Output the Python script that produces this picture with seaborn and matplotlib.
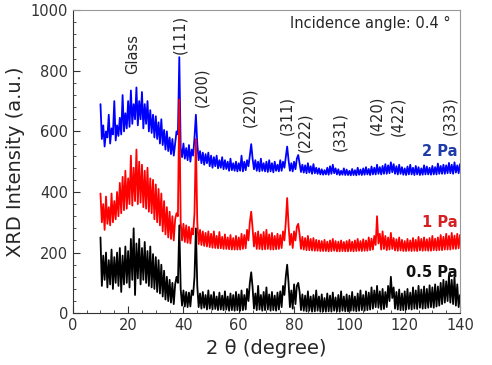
import numpy as np
import pandas as pd
import matplotlib.pyplot as plt
from matplotlib.ticker import MultipleLocator
import seaborn as sns

sns.set_style('ticks')
plt.rcParams['font.family'] = ['DejaVu Sans']

# 2-theta grid, 0.5 degree step from 10 to 140
two_theta = np.arange(10, 140.25, 0.5)

# 2 Pa (blue)
int_2pa = [
    690, 575, 620, 550, 600, 580, 655, 560, 610, 590, 700, 570, 620, 585, 645, 590, 720, 600,
    660, 610, 700, 615, 735, 625, 690, 640, 745, 620, 700, 640, 730, 610, 690, 625, 700, 600, 670, 595,
    655, 580, 650, 575, 630, 560, 640, 555, 605, 540, 600, 535, 580, 525, 575, 520, 560, 600, 590, 845,
    545, 515, 560, 510, 545, 505, 555, 500, 540, 520, 580, 655, 560, 505, 535, 495, 530, 490, 525, 495,
    530, 485, 520, 480, 515, 485, 520, 478, 505, 480, 515, 475, 505, 476, 500, 470, 510, 472, 495, 470,
    500, 468, 495, 470, 520, 468, 500, 472, 505, 485, 520, 558, 510, 475, 505, 470, 500, 468, 510, 470,
    495, 468, 500, 466, 505, 468, 495, 465, 500, 470, 490, 468, 505, 470, 500, 480, 515, 550, 505, 470,
    495, 468, 500, 475, 510, 522, 495, 466, 490, 464, 488, 462, 495, 464, 485, 460, 492, 462, 480, 460,
    478, 458, 475, 457, 472, 458, 480, 457, 485, 460, 490, 462, 478, 458, 475, 456, 470, 457, 478, 456,
    474, 456, 470, 455, 476, 456, 472, 455, 480, 457, 474, 456, 478, 457, 482, 458, 476, 456, 484, 458,
    480, 458, 490, 460, 482, 458, 486, 460, 492, 460, 488, 462, 498, 465, 492, 460, 485, 458, 490, 460,
    482, 457, 478, 456, 484, 458, 490, 458, 480, 456, 486, 458, 482, 456, 478, 457, 488, 458, 484, 458,
    480, 457, 486, 458, 482, 458, 494, 460, 486, 460, 490, 460, 488, 462, 496, 462, 490, 460, 498, 464,
    488, 462, 492,
]

# 1 Pa (red)
int_1pa = [
    395, 300, 360, 275, 385, 295, 350, 290, 395, 300, 370, 310, 400, 320, 430, 330, 450, 340,
    470, 345, 445, 360, 520, 355, 480, 370, 540, 360, 500, 365, 490, 350, 470, 345, 480, 335, 445, 330,
    440, 310, 425, 300, 410, 290, 395, 270, 370, 260, 350, 250, 335, 245, 320, 240, 310, 330, 320, 705,
    300, 240, 295, 235, 290, 232, 285, 230, 280, 260, 330, 575, 300, 228, 275, 225, 270, 222, 265, 220,
    270, 218, 262, 216, 270, 215, 255, 214, 268, 214, 252, 212, 260, 212, 250, 211, 258, 210, 248, 210,
    255, 210, 250, 210, 262, 212, 258, 214, 275, 240, 300, 335, 280, 220, 265, 212, 270, 212, 260, 210,
    268, 211, 275, 212, 260, 210, 265, 210, 255, 211, 262, 212, 258, 215, 270, 240, 300, 380, 290, 225,
    262, 215, 270, 240, 285, 295, 260, 212, 252, 210, 248, 208, 255, 208, 245, 207, 248, 206, 242, 206,
    240, 205, 238, 205, 242, 205, 236, 204, 240, 205, 245, 206, 238, 204, 236, 204, 240, 205, 235, 204,
    238, 204, 242, 205, 236, 204, 240, 205, 245, 206, 238, 205, 244, 206, 240, 206, 250, 208, 246, 210,
    255, 225, 320, 230, 262, 210, 270, 212, 255, 208, 250, 210, 265, 212, 248, 207, 244, 206, 250, 207,
    242, 205, 238, 205, 245, 206, 240, 205, 248, 206, 242, 205, 252, 207, 245, 206, 250, 207, 244, 206,
    248, 206, 255, 208, 246, 207, 250, 208, 258, 208, 252, 210, 262, 210, 255, 210, 265, 212, 256, 212,
    262, 214, 258,
]

# 0.5 Pa (black)
int_05pa = [
    250, 90, 190, 110, 200, 85, 175, 95, 210, 80, 185, 100, 200, 90, 215, 70, 190, 95,
    220, 100, 205, 85, 245, 110, 280, 60, 230, 115, 245, 95, 215, 110, 235, 100, 205, 90, 220, 85,
    195, 80, 185, 70, 175, 65, 160, 55, 140, 45, 120, 40, 110, 35, 100, 30, 95, 120, 100, 290,
    80, 25, 75, 22, 70, 20, 68, 22, 75, 60, 120, 280, 90, 20, 65, 15, 70, 18, 60, 12,
    75, 15, 60, 12, 70, 14, 55, 10, 68, 12, 58, 10, 72, 12, 55, 8, 65, 10, 60, 8,
    70, 10, 62, 8, 75, 10, 60, 12, 80, 40, 100, 135, 85, 15, 65, 10, 90, 12, 60, 8,
    70, 10, 85, 12, 62, 8, 70, 10, 58, 8, 68, 12, 72, 20, 90, 60, 120, 160, 100, 20,
    75, 15, 95, 30, 90, 100, 70, 10, 62, 8, 58, 6, 72, 8, 55, 5, 60, 6, 75, 8,
    55, 5, 62, 6, 50, 5, 65, 6, 58, 5, 68, 8, 52, 6, 60, 5, 72, 8, 55, 6,
    62, 6, 58, 8, 70, 8, 55, 6, 65, 8, 75, 10, 60, 8, 72, 10, 68, 12, 85, 15,
    75, 20, 90, 18, 72, 12, 80, 14, 70, 20, 90, 40, 120, 50, 85, 15, 70, 12, 78, 10,
    65, 10, 72, 12, 80, 14, 68, 12, 85, 15, 75, 14, 90, 18, 78, 15, 88, 16, 80, 18,
    92, 20, 85, 18, 95, 22, 88, 25, 100, 30, 110, 35, 105, 40, 125, 35, 110, 30, 120, 25,
    95, 20, 60,
]

series_labels = ['2 Pa', '1 Pa', '0.5 Pa']
line_colors = ['#0000ff', '#ff0000', '#000000']
label_colors = ['#1f3ca8', '#d42020', '#111111']
label_y = [535, 299, 133]

peak_names = ['Glass', '(111)', '(200)', '(220)', '(311)', '(222)', '(331)', '(420)', '(422)', '(333)']
peak_x = [21.7, 38.7, 46.7, 64.0, 77.4, 83.9, 96.6, 110.0, 117.6, 136.4]
peak_y = [854, 920, 747, 681, 654, 598, 598, 654, 651, 651]

fig = plt.figure(figsize=(4.92, 3.65), dpi=100)
ax = fig.add_axes([0.148, 0.142, 0.787, 0.830])

for vals, col in zip([int_2pa, int_1pa, int_05pa], line_colors):
    sns.lineplot(x=two_theta, y=vals, color=col, lw=1.3, ax=ax)

for name, px, py in zip(peak_names, peak_x, peak_y):
    ax.text(px, py, name, rotation=90, ha='center', va='center', fontsize=10.5)

for lab, col, ly in zip(series_labels, label_colors, label_y):
    ax.text(139, ly, lab, color=col, ha='right', va='center', fontsize=10.5, fontweight='bold')

ax.text(136.5, 957, 'Incidence angle: 0.4 °', ha='right', va='center', fontsize=10.5)

ax.set_xlim(0, 140)
ax.set_ylim(0, 1000)
ax.xaxis.set_major_locator(MultipleLocator(20))
ax.xaxis.set_minor_locator(MultipleLocator(5))
ax.yaxis.set_major_locator(MultipleLocator(200))
ax.yaxis.set_minor_locator(MultipleLocator(40))
ax.tick_params(which='both', direction='in', labelsize=10.5, colors='#333333', labelcolor='#333333')
ax.tick_params(which='major', length=5, width=0.8)
ax.tick_params(which='minor', length=2.5, width=0.6)
ax.set_xlabel('2 θ (degree)', fontsize=14)
ax.set_ylabel('XRD Intensity (a.u.)', fontsize=14)
for side in ['top', 'right']:
    ax.spines[side].set_visible(True)
    ax.spines[side].set_color('#999999')
for side in ['left', 'bottom']:
    ax.spines[side].set_color('#333333')

fig.savefig('out.png', dpi=100)
